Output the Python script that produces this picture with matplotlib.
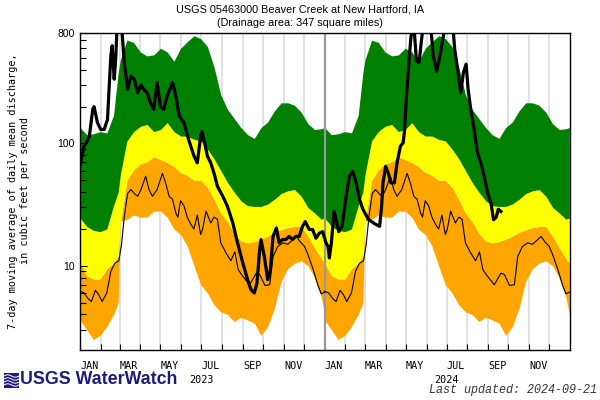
import datetime as dt
import numpy as np
import matplotlib
matplotlib.use("Agg")
import matplotlib.pyplot as plt
from matplotlib.ticker import FixedLocator, FixedFormatter, NullFormatter

# ---------------- data ----------------
# Percentile band boundaries by day of year (cfs)
band_days = [0, 10, 20, 30, 40, 50, 57, 60, 70, 80, 90, 100, 110, 120, 130, 140, 150, 160,
             170, 180, 190, 200, 210, 220, 230, 240, 250, 260, 270, 280, 290, 300, 310, 320,
             330, 340, 350, 360, 365]
band_low = [3.6, 3.0, 2.5, 2.7, 3.2, 4.0, 5.0, 23, 24, 26, 25, 25, 28, 28, 25, 20, 18, 14.5,
            10, 7, 6, 4.8, 4.2, 4.0, 3.5, 3.8, 3.6, 3.4, 2.7, 3.2, 4.5, 7.5, 9.5, 10.5,
            11, 10, 8.0, 5.5, 4.0]
band_orange_top = [10.5, 8.3, 7.8, 7.8, 9.5, 10.5, 12, 22, 50, 61, 68, 71, 78, 74, 70, 65, 58, 55,
                   50, 50, 44, 35, 27, 23, 18.5, 16, 15.4, 15.8, 16.5, 17.5, 18.8, 19.8, 20.5, 21,
                   21, 17.5, 14, 11.5, 10.5]
band_yellow_top = [24.6, 21, 19.5, 19, 20, 31, 40, 55, 105, 125, 138, 143, 125, 130, 148, 125, 115, 115,
                   108, 105, 90, 75, 60, 48, 40, 34, 31, 30.6, 30.6, 32, 35, 39, 41, 42,
                   37, 30, 27, 24, 24.6]
band_green_top = [135, 118, 120, 125, 122, 170, 380, 480, 700, 670, 560, 520, 530, 600, 560, 470, 600, 680,
                  760, 720, 620, 420, 250, 190, 160, 135, 118, 110, 135, 150, 185, 215, 215, 205,
                  180, 145, 130, 132, 135]

# Thin reference line (repeats each year), by day of year
thin_days = [0, 6, 12, 17, 23, 28, 33, 40, 46, 52, 58, 62, 66, 71, 76, 81, 86, 91, 98, 103, 108,
             115, 123, 128, 133, 138, 143, 146, 150, 155, 160, 165, 170, 175, 180, 183, 188, 195,
             200, 205, 210, 218, 225, 231, 236, 243, 253, 263, 268, 276, 283, 288, 295, 303, 310,
             318, 323, 328, 335, 340, 348, 355, 360, 365]
thin_vals = [6.2, 6.0, 5.4, 5.1, 6.3, 5.8, 5.1, 6.0, 9.0, 10.5, 11.0, 15, 25, 39, 42, 39, 37, 42, 54, 42, 37,
             42, 57, 47, 37, 35, 27, 25, 34, 31, 25, 22, 20, 26, 18, 20, 28, 22.4,
             25, 24, 15.4, 12.7, 11, 13, 9.3, 8.2, 7.0, 8.7, 8.5, 6.9, 7.0, 11.9, 14.4, 15.4, 15,
             16.4, 17.4, 15.8, 14.4, 12.4, 9.3, 6.9, 5.9, 6.1]

# 7-day mean discharge, days since 2023-01-01
flow_days = [0, 6, 11, 14, 19, 21, 26, 31, 36, 41, 46, 48, 51, 53, 56, 61, 66, 71, 76, 81, 86, 91, 95,
             100, 105, 110, 115, 120, 125, 130, 138, 143, 148, 155, 162, 170, 175, 180, 182, 186,
             190, 195, 200, 205, 213, 220, 228, 235, 243, 250, 255, 260, 264, 268, 270, 275, 280,
             284, 288, 293, 297, 302, 307, 312, 317, 322, 327, 332, 336, 342, 347, 352, 357, 362,
             367, 370, 372, 375, 379, 382, 386, 391, 397, 402, 407, 412, 417, 422, 430, 440, 447,
             450, 452, 456, 460, 464, 469, 473, 478, 482, 484, 487, 490, 493, 497, 502, 506, 509,
             514, 522, 527, 532, 537, 542, 547, 555, 559, 564, 568, 572, 576, 579, 583, 588, 593,
             598, 603, 608, 613, 617, 621, 624, 628]
flow_vals = [66, 95, 105, 115, 190, 200, 148, 130, 130, 157, 520, 630, 335, 461, 1100, 1100, 461, 277,
             355, 335, 260, 300, 277, 260, 216, 190, 315, 200, 190, 245, 315, 245, 168, 148, 108,
             79, 69.5, 115, 125, 101, 79, 69.5, 57, 44.7, 37, 30.6, 22.4, 15.4, 10.5, 7.7, 6.4,
             6.0, 7.2, 13.5, 16.4, 11.9, 7.7, 9.3, 17.4, 20.4, 15.4, 16.4, 16.4, 17.4, 16.4, 17.4,
             17.4, 21, 23, 19.8, 19.8, 16.8, 18.5, 19, 15.4, 14.4, 11.6, 15.4, 27.8, 24, 19, 21,
             37, 54, 59, 47.6, 35, 29, 24, 22, 21, 31, 47.6, 65, 57, 47.6, 47.6, 69.5, 95, 101,
             125, 245, 404, 668, 1100, 470, 461, 670, 1100, 1100, 520, 390, 520, 750, 1100, 1100,
             590, 380, 260, 380, 445, 277, 190, 130, 84, 69.5, 54, 39.5, 32.8, 23.8, 25, 29, 27.8]

month_labels = ["JAN", "MAR", "MAY", "JUL", "SEP", "NOV"]
years = [2023, 2024]

# ---------------- figure ----------------
fig = plt.figure(figsize=(6, 4), dpi=100)
ax = fig.add_axes([80 / 600, 1 - 350 / 400, 490 / 600, 317 / 400])

start = dt.date(2023, 1, 1)
month_starts = [(dt.date(y, m, 1) - start).days for y in years for m in range(1, 13)]
end_day = (dt.date(2025, 1, 1) - start).days

for d in month_starts[1:]:
    if d == 365:
        continue
    ax.axvline(d, color="#d8d8d8", lw=1.1, zorder=0.5)

bd = np.array(band_days, dtype=float)
for k, y in enumerate(years):
    off = (dt.date(y, 1, 1) - start).days
    x = bd + off
    ax.fill_between(x, band_low, band_orange_top, color="#ffa500", lw=0, zorder=1)
    ax.fill_between(x, band_orange_top, band_yellow_top, color="#ffff00", lw=0, zorder=1)
    ax.fill_between(x, band_yellow_top, band_green_top, color="#008000", lw=0, zorder=1)
    ax.plot(np.array(thin_days) + off, thin_vals, color="black", lw=0.8, zorder=3)

ax.axvline(365, color="#999999", lw=1.6, zorder=2)
ax.plot(flow_days, flow_vals, color="black", lw=2.3, zorder=4, solid_joinstyle="round")

ax.set_yscale("log")
ax.set_ylim(2.05, 800)
ax.set_xlim(0, end_day)

ax.yaxis.set_major_locator(FixedLocator([10, 100, 800]))
ax.yaxis.set_major_formatter(FixedFormatter(["10", "100", "800"]))
minor = [v * m for m in (1, 10, 100) for v in range(2, 10)]
minor = [v for v in minor if v < 800 and v not in (10, 100)]
ax.yaxis.set_minor_locator(FixedLocator(minor))
ax.yaxis.set_minor_formatter(NullFormatter())
ax.tick_params(axis="y", which="both", direction="in", left=True, right=False,
               labelsize=7.5, pad=4)
ax.tick_params(axis="y", which="major", length=5, width=0.8)
ax.tick_params(axis="y", which="minor", length=4, width=0.8)
for lab in ax.get_yticklabels():
    lab.set_fontfamily("Liberation Sans")

ax.set_xticks(month_starts)
ax.set_xticklabels([])
ax.tick_params(axis="x", which="major", direction="in", length=4, width=0.8, top=False)

for sp in ax.spines.values():
    sp.set_linewidth(1.0)
    sp.set_color("black")
    sp.set_zorder(5)

trans = ax.get_xaxis_transform()
for y in years:
    for i, lab in enumerate(month_labels):
        m = 1 + 2 * i
        d = (dt.date(y, m, 15) - start).days
        ax.text(d, -0.05, lab, transform=trans, ha="center", va="center",
                fontsize=7.3, family="DejaVu Sans Mono")
    d = (dt.date(y, 7, 1) - start).days
    ax.text(d, -0.095, str(y), transform=trans, ha="center", va="center",
            fontsize=7.3, family="DejaVu Sans Mono")

fig.text(0.5, 1 - 10 / 400, "USGS 05463000 Beaver Creek at New Hartford, IA",
         ha="center", va="center", fontsize=7.8, family="Liberation Sans")
fig.text(0.5, 1 - 23 / 400, "(Drainage area: 347 square miles)",
         ha="center", va="center", fontsize=7.8, family="Liberation Sans")

fig.text(19 / 600, 1 - 191 / 400,
         "7-day moving average of daily mean discharge,\nin cubic feet per second",
         rotation=90, ha="center", va="center", multialignment="center",
         fontsize=7.3, family="DejaVu Sans Mono", linespacing=1.35)

# USGS WaterWatch logo
fig.text(20 / 600, 1 - 380 / 400, "USGS WaterWatch", ha="left", va="center",
         fontsize=12.8, fontweight="bold", family="Liberation Sans", color="#1a1a80")
iax = fig.add_axes([4 / 600, 1 - 388 / 400, 15 / 600, 15 / 400])
iax.set_xlim(0, 1)
iax.set_ylim(0, 1)
iax.axis("off")
iax.add_patch(plt.Rectangle((0, 0), 1, 1, color="#1a1a80", zorder=0))
tt = np.linspace(0, 1, 30)
for k in range(4):
    iax.plot(tt, 0.2 + 0.2 * k + 0.08 * np.sin(tt * 2 * np.pi), color="white", lw=0.7)

fig.text(597 / 600, 1 - 390 / 400, "Last updated: 2024-09-21", ha="right", va="center",
         fontsize=8.5, family="Liberation Mono", style="italic", color="#333333")

fig.savefig("out.png", dpi=100)
